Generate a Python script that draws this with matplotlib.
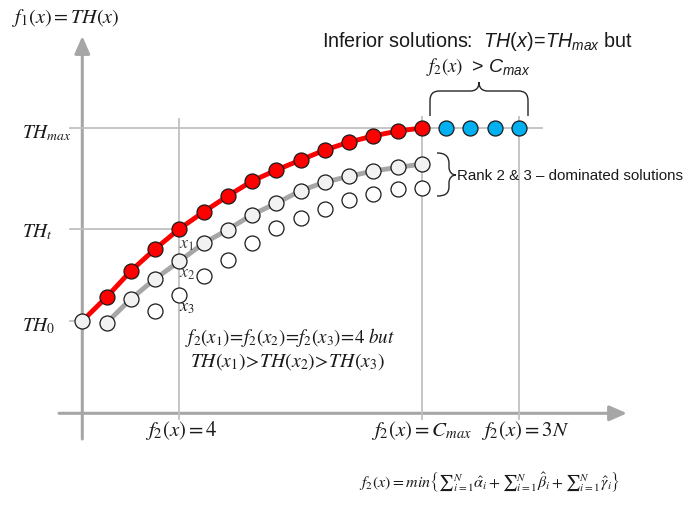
import matplotlib
matplotlib.use("Agg")
import matplotlib.pyplot as plt
import matplotlib.transforms as mtransforms
from matplotlib.path import Path
from matplotlib.patches import PathPatch, FancyArrowPatch

# sans parts of the mathtext (used with math_fontfamily='custom')
plt.rcParams['mathtext.fontset'] = 'custom'
plt.rcParams['mathtext.rm'] = 'Liberation Sans'
plt.rcParams['mathtext.it'] = 'Liberation Sans:italic'
plt.rcParams['mathtext.bf'] = 'Liberation Sans:bold'

# ---- data: x = f2 value (cost step), y = TH (arbitrary units, TH0 = 0, THmax = 10)
rank1_x = [0, 1, 2, 3, 4, 5, 6, 7, 8, 9, 10, 11, 12, 13, 14]
rank1_th = [0.0, 1.24, 2.59, 3.73, 4.77, 5.65, 6.48, 7.25, 7.82, 8.34, 8.86, 9.27, 9.59, 9.84, 10.0]

rank2_x = [1, 2, 3, 4, 5, 6, 7, 8, 9, 10, 11, 12, 13, 14]
rank2_th = [-0.10, 1.14, 2.18, 3.09, 4.03, 4.73, 5.51, 6.10, 6.75, 7.19, 7.50, 7.77, 7.96, 8.13]

rank3_x = [3, 4, 5, 6, 7, 8, 9, 10, 11, 12, 13, 14]
rank3_th = [0.50, 1.36, 2.35, 3.16, 4.03, 4.80, 5.34, 5.80, 6.28, 6.58, 6.84, 6.87]

inferior_x = [15, 16, 17, 18]
inferior_th = [10.0, 10.0, 10.0, 10.0]

TH0, TH_T, TH_MAX = 0.0, 4.77, 10.0
F2_MARKS = [4, 14, 18]          # f2 = 4, Cmax, 3N
X_LABELS = [r'$f_2(x) = 4$', r'$f_2(x) = C_{max}$', r'$f_2(x) = 3N$']

# ---- figure set-up (axes fill the whole figure, 1 x-unit = 24.25 px, 1 y-unit = 19.3 px)
W, H = 684, 506
X0, DX, Y0, DY = 82.3, 24.25, 322.0, 19.3
fig = plt.figure(figsize=(W / 100, H / 100), dpi=100)
fig.set_facecolor('white')
ax = fig.add_axes([0, 0, 1, 1])
ax.set_xlim(-X0 / DX, (W - X0) / DX)
ax.set_ylim((Y0 - H) / DY, Y0 / DY)
ax.axis('off')

# pixel coordinates for annotations (origin top-left)
px = mtransforms.Affine2D().scale(1 / W, -1 / H).translate(0, 1) + fig.transFigure

AXC = '#a6a6a6'
GRIDC = '#c0c0c0'
x_axis_y = (Y0 - 414.3) / DY

# axes with arrows
arrow = dict(arrowstyle='-|>,head_length=10.5,head_width=4.6', mutation_scale=1, color=AXC, lw=2.2,
             zorder=1, shrinkA=0, shrinkB=0)
ax.add_patch(FancyArrowPatch((0, (Y0 - 440) / DY), (0, (Y0 - 37) / DY), **arrow))
ax.add_patch(FancyArrowPatch(((59 - X0) / DX, x_axis_y), ((627 - X0) / DX, x_axis_y), **arrow))

# guide lines
ax.plot([(70 - X0) / DX, (542 - X0) / DX], [TH_MAX, TH_MAX], color=GRIDC, lw=1.3, zorder=1)
ax.plot([(70 - X0) / DX, F2_MARKS[0]], [TH_T, TH_T], color=GRIDC, lw=1.3, zorder=1)
ax.plot([(70 - X0) / DX, 0], [TH0, TH0], color=GRIDC, lw=1.3, zorder=1)
tops = [10.47, 10.57, 10.57]
for xm, top in zip(F2_MARKS, tops):
    ax.plot([xm, xm], [top, (Y0 - 420) / DY], color=GRIDC, lw=1.3, zorder=1)

# fronts
ax.plot(rank1_x, rank1_th, color='#ff0000', lw=3.5, zorder=2, solid_capstyle='round')
ax.plot(rank2_x, rank2_th, color='#a6a6a6', lw=3.5, zorder=2, solid_capstyle='round')
mk = dict(marker='o', ms=10.8, mec='#1a1a1a', mew=0.9, ls='none', zorder=3)
ax.plot(rank1_x[1:], rank1_th[1:], mfc='#ff0000', **mk)
ax.plot(rank1_x[:1], rank1_th[:1], mfc='#f2f2f2', **mk)
ax.plot(rank2_x, rank2_th, mfc='#f2f2f2', **mk)
ax.plot(rank3_x, rank3_th, mfc='white', **mk)
ax.plot(inferior_x, inferior_th, mfc='#00b0f0', **mk)

serif = dict(math_fontfamily='stix', color='#1a1a1a')
sans = dict(math_fontfamily='custom', family='Liberation Sans', color='#1a1a1a')

# y labels
fig.text(12, 23, r'$f_1(x) = TH(x)$', transform=px, fontsize=14.5, va='baseline', **serif)
fig.text(22, 138, r'$TH_{max}$', transform=px, fontsize=14, va='baseline', **serif)
fig.text(22, 237, r'$TH_t$', transform=px, fontsize=14, va='baseline', **serif)
fig.text(22, 331, r'$TH_0$', transform=px, fontsize=14, va='baseline', **serif)

# x labels
for xm, lab, dx in zip(F2_MARKS, X_LABELS, [2, 0, 6]):
    ax.text(xm + dx / DX, (Y0 - 436) / DY, lab, fontsize=15, ha='center', va='baseline', **serif)

# point labels
fig.text(179, 249, r'$x_1$', transform=px, fontsize=13, va='baseline', math_fontfamily='stix', color='#404040')
fig.text(179, 278, r'$x_2$', transform=px, fontsize=13, va='baseline', math_fontfamily='stix', color='#404040')
fig.text(179, 312, r'$\boldsymbol{x_3}$', transform=px, fontsize=13, va='baseline', math_fontfamily='stix', color='#1a1a1a')

fig.text(185, 343, r'$f_2(x_1)\!=\!f_2(x_2)\!=\!f_2(x_3)\!=\!4\ but$', transform=px, fontsize=13.7,
         va='baseline', **serif)
fig.text(190, 367, r'$TH(x_1)\!>\!TH(x_2)\!>\!TH(x_3)$', transform=px, fontsize=14.2, va='baseline', **serif)

# inferior solutions note
fig.text(322, 47, r'Inferior solutions:  $TH(x)\!=\!TH_{max}$ but', transform=px, fontsize=14.2,
         va='baseline', **sans)
fig.text(463, 72, r'$f_2(x)$', transform=px, fontsize=13.5, va='baseline', ha='right', **serif)
fig.text(466, 72, r' > $C_{max}$', transform=px, fontsize=14, va='baseline', **sans)

fig.text(457, 180, 'Rank 2 & 3 \u2013 dominated solutions', transform=px, fontsize=10.9, va='baseline', **sans)

# braces
top_brace = Path([(430, 117), (430, 102), (430, 95), (433, 92), (440, 92), (470, 92),
                  (476, 92), (479, 89), (479, 83), (479, 89), (482, 92), (488, 92),
                  (518, 92), (525, 92), (528, 95), (528, 102), (528, 117)],
                 [Path.MOVETO, Path.LINETO, Path.CURVE4, Path.CURVE4, Path.CURVE4, Path.LINETO,
                  Path.CURVE4, Path.CURVE4, Path.CURVE4, Path.CURVE4, Path.CURVE4, Path.CURVE4,
                  Path.LINETO, Path.CURVE4, Path.CURVE4, Path.CURVE4, Path.LINETO])
side_brace = Path([(437, 154), (446, 154), (449, 158), (449, 165), (449, 168),
                   (449, 173), (452, 176), (456, 176), (452, 176), (449, 179), (449, 184),
                   (449, 187), (449, 194), (446, 197), (437, 197)],
                  [Path.MOVETO, Path.CURVE4, Path.CURVE4, Path.CURVE4, Path.LINETO,
                   Path.CURVE4, Path.CURVE4, Path.CURVE4, Path.CURVE4, Path.CURVE4, Path.CURVE4,
                   Path.LINETO, Path.CURVE4, Path.CURVE4, Path.CURVE4])
for p in (top_brace, side_brace):
    fig.patches.append(PathPatch(p, transform=px, fc='none', ec='#262626', lw=1.0))

# cost formula
fig.text(490, 487, r'$f_2(x) = min\left\{{\sum}_{i=1}^{N}\hat{\alpha}_i + {\sum}_{i=1}^{N}\hat{\beta}_i'
         r' + {\sum}_{i=1}^{N}\hat{\gamma}_i\right\}$', transform=px, fontsize=11.5, ha='center',
         va='baseline', **serif)

plt.savefig('out.png', dpi=100)
